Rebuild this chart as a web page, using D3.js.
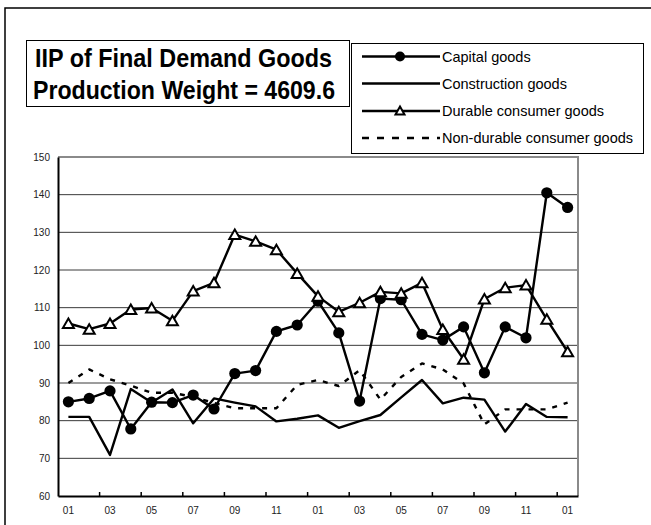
<!DOCTYPE html>
<html>
<head>
<meta charset="utf-8">
<script src="https://cdn.jsdelivr.net/npm/d3@7"></script>
<style>
  html, body { margin: 0; padding: 0; background: #fff; }
  svg { display: block; font-family: "Liberation Sans", Arial, sans-serif; }
</style>
</head>
<body>
<svg id="chart" width="651" height="525"></svg>
<script>
// Month labels for each point (two years plus one month)
const categories = ['01','02','03','04','05','06','07','08','09','10','11','12',
                    '01','02','03','04','05','06','07','08','09','10','11','12','01'];

const capitalGoods = [85.0, 85.9, 87.9, 77.8, 84.9, 84.8, 86.8, 83.1, 92.5, 93.3, 103.7, 105.4,
                      111.7, 103.3, 85.2, 112.4, 112.1, 102.9, 101.4, 104.9, 92.7, 104.9, 102.0, 140.5, 136.6];
const constructionGoods = [81.0, 81.0, 70.9, 88.4, 84.8, 88.3, 79.3, 85.9, 84.8, 83.8, 79.8, 80.5,
                           81.4, 78.1, 79.9, 81.5, 86.2, 90.8, 84.6, 86.1, 85.6, 77.1, 84.4, 81.0, 80.9];
const durableGoods = [105.8, 104.3, 105.8, 109.5, 109.9, 106.5, 114.4, 116.6, 129.4, 127.6, 125.4, 119.1,
                      113.0, 108.9, 111.3, 114.2, 113.8, 116.6, 104.2, 96.3, 112.3, 115.3, 116.0, 106.9, 98.3];
const nonDurableGoods = [90.0, 93.6, 91.0, 89.3, 87.4, 87.4, 86.3, 84.7, 83.3, 83.3, 83.3, 89.5,
                         90.8, 89.2, 93.4, 85.6, 91.6, 95.2, 93.6, 89.9, 79.0, 83.0, 83.0, 83.0, 84.8];

const yTicks = [60, 70, 80, 90, 100, 110, 120, 130, 140, 150];
const titleLines = ['IIP of Final Demand Goods', 'Production Weight = 4609.6'];

const series = [
    { name: 'Capital goods', values: capitalGoods, marker: 'circle', dash: null },
    { name: 'Construction goods', values: constructionGoods, marker: null, dash: null },
    { name: 'Durable consumer goods', values: durableGoods, marker: 'triangle', dash: null },
    { name: 'Non-durable consumer goods', values: nonDurableGoods, marker: null, dash: '5,7' }
];

const svg = d3.select('#chart');

// Plot area
const plot = { left: 58, right: 578, top: 157, bottom: 496 };

const x = d3.scaleBand()
    .domain(d3.range(categories.length))
    .range([plot.left, plot.right]);
const xc = i => x(i) + x.bandwidth() / 2;

const y = d3.scaleLinear()
    .domain([60, 150])
    .range([plot.bottom, plot.top]);

// Outer frame (only the top and left edges fall inside the picture)
svg.append('path')
    .attr('d', 'M5,526 L5,8 L652,8')
    .attr('fill', 'none')
    .attr('stroke', '#000')
    .attr('stroke-width', 1.5);

// Gridlines
svg.append('g')
    .selectAll('line')
    .data(yTicks.filter(d => d > 60))
    .join('line')
    .attr('x1', plot.left)
    .attr('x2', plot.right)
    .attr('y1', d => y(d))
    .attr('y2', d => y(d))
    .attr('stroke', '#3a3a3a')
    .attr('stroke-width', 1);

// Plot border, gray on top and right
svg.append('path')
    .attr('d', `M${plot.left},${plot.top} L${plot.right},${plot.top} L${plot.right},${plot.bottom}`)
    .attr('fill', 'none')
    .attr('stroke', '#8a8a8a')
    .attr('stroke-width', 2);

// Y axis
const yAxis = svg.append('g')
    .attr('transform', `translate(${plot.left},0)`)
    .call(d3.axisLeft(y).tickValues(yTicks).tickSize(0).tickPadding(8));
yAxis.select('.domain').attr('stroke', '#000').attr('stroke-width', 2);
yAxis.selectAll('text')
    .style('font-size', '10px')
    .style('font-family', '"Liberation Sans", Arial, sans-serif')
    .attr('fill', '#222');

// X axis
const xAxis = svg.append('g')
    .attr('transform', `translate(0,${plot.bottom})`)
    .call(d3.axisBottom(x)
        .tickValues(d3.range(0, categories.length, 2))
        .tickFormat(i => categories[i])
        .tickSize(0)
        .tickPadding(11));
xAxis.select('.domain').attr('stroke', '#000').attr('stroke-width', 2);
xAxis.selectAll('text')
    .style('font-size', '10px')
    .style('font-family', '"Liberation Sans", Arial, sans-serif')
    .attr('fill', '#222');

// Inward tick marks at every other category boundary
svg.append('g')
    .selectAll('line')
    .data(d3.range(2, categories.length, 2))
    .join('line')
    .attr('x1', i => x(i))
    .attr('x2', i => x(i))
    .attr('y1', plot.bottom)
    .attr('y2', plot.bottom - 4)
    .attr('stroke', '#000')
    .attr('stroke-width', 1.5);

const line = d3.line()
    .x((d, i) => xc(i))
    .y(d => y(d));

const triangle = 'M0,-5 L5.5,4.5 L-5.5,4.5 Z';

// Draw the series
series.forEach(s => {
    svg.append('path')
        .attr('d', line(s.values))
        .attr('fill', 'none')
        .attr('stroke', '#000')
        .attr('stroke-width', 2.4)
        .attr('stroke-linejoin', 'round')
        .attr('stroke-dasharray', s.dash);

    if (s.marker === 'circle') {
        svg.append('g')
            .selectAll('circle')
            .data(s.values)
            .join('circle')
            .attr('cx', (d, i) => xc(i))
            .attr('cy', d => y(d))
            .attr('r', 5.6)
            .attr('fill', '#000');
    } else if (s.marker === 'triangle') {
        svg.append('g')
            .selectAll('path')
            .data(s.values)
            .join('path')
            .attr('d', triangle)
            .attr('transform', (d, i) => `translate(${xc(i)},${y(d)})`)
            .attr('fill', '#fff')
            .attr('stroke', '#000')
            .attr('stroke-width', 2);
    }
});

// Title box
const titleBox = svg.append('g');
titleBox.append('rect')
    .attr('x', 26.5).attr('y', 40.5)
    .attr('width', 323).attr('height', 66)
    .attr('fill', '#fff')
    .attr('stroke', '#000')
    .attr('stroke-width', 1);
// narrow face, squeezed to the width seen in the original
const titleWidths = [297, 302];
titleBox.selectAll('text')
    .data(titleLines)
    .join('text')
    .attr('x', (d, i) => 35 - i * 2)
    .attr('y', (d, i) => 66.5 + i * 32.5)
    .attr('textLength', (d, i) => titleWidths[i])
    .attr('lengthAdjust', 'spacingAndGlyphs')
    .style('font-family', '"Liberation Sans Narrow", "Liberation Sans", Arial, sans-serif')
    .style('font-size', '25px')
    .style('font-weight', 'bold')
    .text(d => d);

// Legend box
const legend = svg.append('g');
legend.append('rect')
    .attr('x', 351.5).attr('y', 43.5)
    .attr('width', 292).attr('height', 110)
    .attr('fill', '#fff')
    .attr('stroke', '#000')
    .attr('stroke-width', 1);

const legendRows = [56.5, 83.5, 111, 138];
series.forEach((s, i) => {
    const item = legend.append('g')
        .attr('transform', `translate(0,${legendRows[i]})`);
    item.append('line')
        .attr('x1', 362).attr('x2', 440)
        .attr('y1', 0).attr('y2', 0)
        .attr('stroke', '#000')
        .attr('stroke-width', 2.4)
        .attr('stroke-dasharray', s.dash ? '7,8' : null);
    if (s.marker === 'circle') {
        item.append('circle')
            .attr('cx', 400).attr('cy', 0).attr('r', 5)
            .attr('fill', '#000');
    } else if (s.marker === 'triangle') {
        item.append('path')
            .attr('d', 'M0,-4.5 L4.5,3.5 L-4.5,3.5 Z')
            .attr('transform', 'translate(400,0)')
            .attr('fill', '#fff')
            .attr('stroke', '#000')
            .attr('stroke-width', 2);
    }
    item.append('text')
        .attr('x', 442)
        .attr('y', 5)
        .style('font-size', '14.5px')
        .text(s.name);
});
</script>
</body>
</html>
